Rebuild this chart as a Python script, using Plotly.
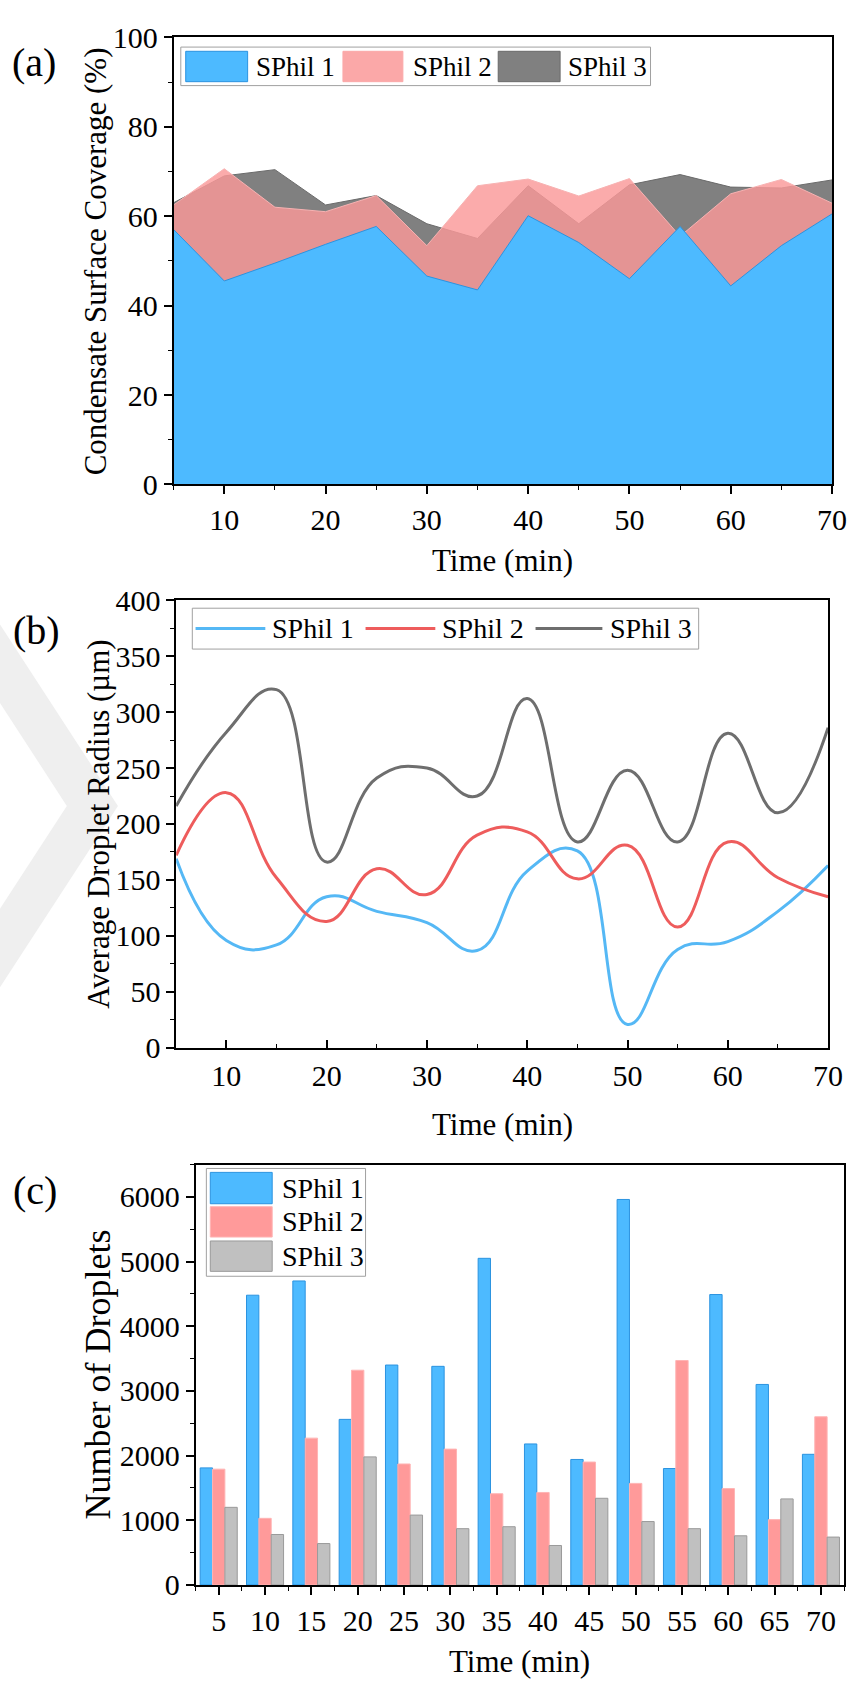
import plotly.graph_objects as go

W, H = 865, 1697
FONT = "Liberation Serif, Times New Roman, serif"

# ---------------- data ----------------
time = [5, 10, 15, 20, 25, 30, 35, 40, 45, 50, 55, 60, 65, 70]
series_names = ["SPhil 1", "SPhil 2", "SPhil 3"]

# (a) condensate surface coverage (%)
cov_s1 = [57.0, 45.5, 49.5, 53.7, 57.7, 46.6, 43.5, 60.1, 54.1, 46.0, 57.7, 44.4, 53.4, 60.5]
cov_s2 = [62.5, 70.6, 62.0, 61.0, 64.6, 53.4, 66.8, 68.3, 64.5, 68.4, 55.5, 65.0, 68.2, 62.9]
cov_s3 = [63.0, 69.0, 70.4, 62.5, 64.6, 58.3, 55.0, 66.8, 58.3, 67.0, 69.3, 66.5, 66.3, 68.1]

# (b) average droplet radius (um)
rad_s1 = [169, 96, 92, 135, 122, 112, 87, 158, 176, 21, 88, 95, 122, 163]
rad_s2 = [172, 228, 152, 113, 160, 137, 190, 193, 151, 181, 108, 184, 152, 135]
rad_s3 = [216, 282, 320, 166, 241, 250, 225, 312, 184, 248, 184, 281, 210, 286]

# (c) number of droplets
num_s1 = [1810, 4480, 4700, 2560, 3400, 3380, 5050, 2180, 1940, 5960, 1800, 4490, 3100, 2020]
num_s2 = [1790, 1030, 2270, 3320, 1870, 2100, 1410, 1430, 1900, 1570, 3470, 1490, 1010, 2600]
num_s3 = [1200, 780, 640, 1980, 1080, 870, 900, 610, 1340, 980, 870, 760, 1330, 740]

# ---------------- styles ----------------
BLUE = "#4DBAFF"
BLUE_EDGE = "#2B93E0"
PINK_A = "rgba(250,152,152,0.82)"
PINK_EDGE_A = "#F7B2B2"
GRAY_A = "#808080"
LINE_BLUE = "#55B8F5"
LINE_RED = "#EE5C5C"
LINE_GRAY = "#6E6E6E"
BAR_PINK = "#FF9A9A"
BAR_PINK_EDGE = "#FFB4B4"
BAR_GRAY = "#C0C0C0"
BAR_GRAY_EDGE = "#9A9A9A"
WATERMARK = "#EFEFEF"


def px(x):
    return x / W


def py(y):
    return 1 - y / H


fig = go.Figure()

# ---- (a) overlapping areas ----
fig.add_trace(go.Scatter(x=time, y=cov_s3, name=series_names[2], mode="lines",
                         fill="tozeroy", fillcolor=GRAY_A,
                         line=dict(color="#6A6A6A", width=1),
                         xaxis="x", yaxis="y", showlegend=False))
fig.add_trace(go.Scatter(x=time, y=cov_s2, name=series_names[1], mode="lines",
                         fill="tozeroy", fillcolor=PINK_A,
                         line=dict(color=PINK_EDGE_A, width=1),
                         xaxis="x", yaxis="y", showlegend=False))
fig.add_trace(go.Scatter(x=time, y=cov_s1, name=series_names[0], mode="lines",
                         fill="tozeroy", fillcolor=BLUE,
                         line=dict(color=BLUE_EDGE, width=1),
                         xaxis="x", yaxis="y", showlegend=False))

# ---- (b) spline lines ----
for ys, col, nm in [(rad_s1, LINE_BLUE, series_names[0]),
                    (rad_s2, LINE_RED, series_names[1]),
                    (rad_s3, LINE_GRAY, series_names[2])]:
    fig.add_trace(go.Scatter(x=time, y=ys, name=nm, mode="lines",
                             line=dict(color=col, width=3, shape="spline", smoothing=1.3),
                             xaxis="x2", yaxis="y2", showlegend=False))

# ---- (c) grouped bars ----
for ys, col, edge, nm in [(num_s1, BLUE, BLUE_EDGE, series_names[0]),
                          (num_s2, BAR_PINK, BAR_PINK_EDGE, series_names[1]),
                          (num_s3, BAR_GRAY, BAR_GRAY_EDGE, series_names[2])]:
    fig.add_trace(go.Bar(x=time, y=ys, name=nm, marker=dict(color=col, line=dict(color=edge, width=1)),
                         xaxis="x3", yaxis="y3", showlegend=False))

# ---------------- axes ----------------
tickfont = dict(family=FONT, size=30, color="black")


def ax(ticks="outside", **kw):
    d = dict(showline=True, mirror=True, linecolor="black", linewidth=1.6,
             ticks=ticks, ticklen=8, tickwidth=1.6, tickcolor="black",
             showgrid=False, zeroline=False, tickfont=tickfont)
    d.update(kw)
    return d


def minor(ticks="outside", **kw):
    d = dict(ticks=ticks, ticklen=4, tickwidth=1.4, tickcolor="black", showgrid=False)
    d.update(kw)
    return d


layout = dict(
    width=W, height=H,
    margin=dict(l=0, r=0, t=0, b=0),
    paper_bgcolor="white", plot_bgcolor="white",
    barmode="group", bargap=0.2, bargroupgap=0,
    showlegend=False,
    xaxis=ax(domain=[px(176.7), px(846.7)], anchor="y", range=[5, 70],
             tick0=0, dtick=10, minor=minor(dtick=5)),
    yaxis=ax(domain=[py(477), py(20.7)], anchor="x", range=[0, 100],
             tick0=0, dtick=20, minor=minor(dtick=10)),
    xaxis2=ax(ticks="inside", domain=[px(179.3), px(842.7)], anchor="y2", range=[5, 70],
              tick0=0, dtick=10, minor=minor(ticks="inside", dtick=5)),
    yaxis2=ax(domain=[py(1052), py(595)], anchor="x2", range=[0, 400],
              tick0=0, dtick=50, minor=minor(dtick=25)),
    xaxis3=ax(domain=[px(199), px(859)], anchor="y3", range=[2.5, 72.5],
              tickmode="array", tickvals=time, ticktext=[str(t) for t in time],
              minor=minor(tickmode="linear", tick0=2.5, dtick=5)),
    yaxis3=ax(domain=[py(1600), py(1171)], anchor="x3", range=[0, 6500],
              tick0=0, dtick=1000, minor=minor(dtick=500)),
)
fig.update_layout(**layout)

# ---------------- texts ----------------
ann = []


def text(x, y, s, size, xanchor="center", angle=0):
    ann.append(dict(x=px(x), y=py(y), xref="paper", yref="paper", text=s, showarrow=False,
                    xanchor=xanchor, yanchor="middle", textangle=angle,
                    font=dict(family=FONT, size=size, color="black")))


text(35, 46, "(a)", 40)
text(37, 626, "(b)", 40)
text(36, 1197, "(c)", 40)
text(511.7, 555, "Time (min)", 31)
text(511, 1130, "Time (min)", 31)
text(529, 1678, "Time (min)", 31)
text(97, 249, "Condensate Surface Coverage (%)", 31, angle=-90)
text(100, 824, "Average Droplet Radius (µm)", 31, angle=-90)
text(100, 1385, "Number of Droplets", 36, angle=-90)

shapes = []

# faint background watermark (chevron) at the left of panel (b)
wm_pts = [(0, 620), (120, 805), (0, 990), (0, 910), (68, 805), (0, 700)]
wm_path = "M" + " L".join(f"{px(x):.5f},{py(y):.5f}" for x, y in wm_pts) + " Z"
shapes.append(dict(type="path", xref="paper", yref="paper", path=wm_path,
                   fillcolor=WATERMARK, line=dict(width=0), layer="below"))


def rect(x0, y0, x1, y1, fill, line, lw=1):
    shapes.append(dict(type="rect", xref="paper", yref="paper", x0=px(x0), x1=px(x1),
                       y0=py(y1), y1=py(y0), fillcolor=fill, line=dict(color=line, width=lw),
                       layer="above"))


def hline(x0, x1, y, color, lw=3):
    shapes.append(dict(type="line", xref="paper", yref="paper", x0=px(x0), x1=px(x1),
                       y0=py(y), y1=py(y), line=dict(color=color, width=lw), layer="above"))


# legend (a)
rect(184, 30.7, 662, 70, "white", "#A0A0A0", 1)
rect(189, 35, 252, 66, BLUE, BLUE_EDGE, 1)
rect(349, 35, 410, 66, "#FBA8A8", "#FBA8A8", 1)
rect(507, 35, 570, 66, GRAY_A, "#6A6A6A", 1)
text(258, 51, series_names[0], 27, xanchor="left")
text(418, 51, series_names[1], 27, xanchor="left")
text(576, 51, series_names[2], 27, xanchor="left")

# legend (b)
rect(195.7, 603.3, 711, 645, "white", "#A0A0A0", 1)
hline(199, 270, 624, LINE_BLUE)
hline(372, 443, 624, LINE_RED)
hline(545, 613, 624, LINE_GRAY)
text(275, 624, series_names[0], 28, xanchor="left")
text(448, 624, series_names[1], 28, xanchor="left")
text(619, 624, series_names[2], 28, xanchor="left")

# legend (c)
rect(210, 1175, 372, 1285, "white", "#A0A0A0", 1)
rect(214, 1179, 277, 1211, BLUE, BLUE_EDGE, 1)
rect(214, 1214, 277, 1245, BAR_PINK, BAR_PINK_EDGE, 1)
rect(214, 1249, 277, 1280, BAR_GRAY, BAR_GRAY_EDGE, 1)
text(285, 1195, series_names[0], 28, xanchor="left")
text(285, 1229.5, series_names[1], 28, xanchor="left")
text(285, 1264.5, series_names[2], 28, xanchor="left")

fig.update_layout(annotations=ann, shapes=shapes)
fig.write_html("out.html")
